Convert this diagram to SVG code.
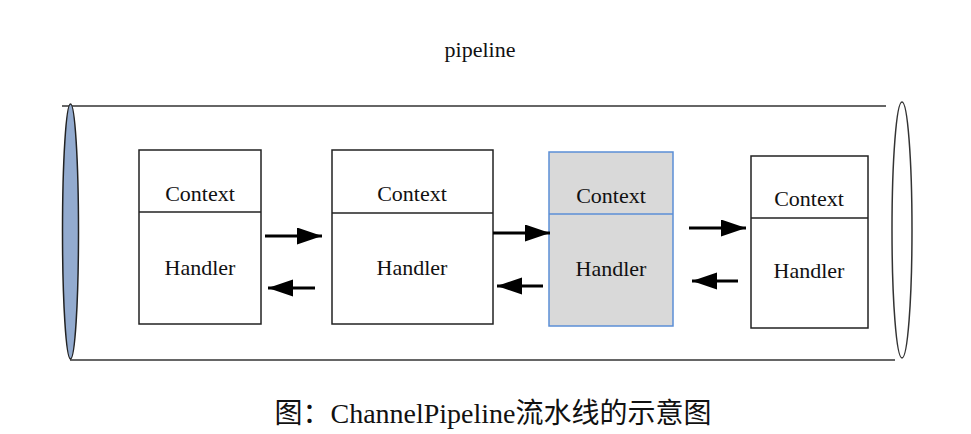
<svg xmlns="http://www.w3.org/2000/svg" width="971" height="434" viewBox="0 0 971 434">
<style>
text{font-family:"Liberation Serif","Noto Sans CJK SC",serif;fill:#111;text-anchor:middle}
.lbl{font-size:22px}
.box{fill:#fff;stroke:#222;stroke-width:1.5}
.hl{fill:#d9d9d9;stroke:#5b8ed6;stroke-width:1.5}
.pipe{stroke:#333;stroke-width:1.5;fill:none}
.arr{stroke:#000;stroke-width:3;fill:none;marker-end:url(#ah)}
</style>
<defs>
<marker id="ah" markerUnits="userSpaceOnUse" markerWidth="26" markerHeight="18" refX="25" refY="8.5" orient="auto">
<path d="M0,0 L25,8.5 L0,17 Z" fill="#000"/>
</marker>
</defs>
<rect width="971" height="434" fill="#fff"/>
<text x="480" y="57" style="font-size:22px">pipeline</text>
<g id="pipeline">
<line class="pipe" x1="62" y1="106" x2="886" y2="106"/>
<line class="pipe" x1="70" y1="360" x2="895" y2="360"/>
<ellipse cx="70.5" cy="231.5" rx="8" ry="127.5" fill="#93abcf" stroke="#222" stroke-width="1.5"/>
<ellipse cx="902" cy="230" rx="10" ry="128" fill="#fff" stroke="#333" stroke-width="1.5"/>
</g>
<g id="node1">
<rect class="box" x="139" y="150" width="122" height="174"/>
<line class="box" x1="139" y1="212" x2="261" y2="212"/>
<text class="lbl" x="200" y="201">Context</text>
<text class="lbl" x="200" y="275">Handler</text>
</g>
<g id="node2">
<rect class="box" x="332" y="150" width="161" height="174"/>
<line class="box" x1="332" y1="213" x2="493" y2="213"/>
<text class="lbl" x="412" y="201">Context</text>
<text class="lbl" x="412" y="275">Handler</text>
</g>
<g id="node3">
<rect class="hl" x="549" y="152" width="124" height="174"/>
<line class="hl" x1="549" y1="214" x2="673" y2="214"/>
<text class="lbl" x="611" y="203">Context</text>
<text class="lbl" x="611" y="276">Handler</text>
</g>
<g id="node4">
<rect class="box" x="751" y="156" width="117" height="172"/>
<line class="box" x1="751" y1="218" x2="868" y2="218"/>
<text class="lbl" x="809" y="206">Context</text>
<text class="lbl" x="809" y="278">Handler</text>
</g>
<g id="connectors">
<line class="arr" x1="265" y1="236" x2="322" y2="236"/>
<line class="arr" x1="315" y1="288" x2="268" y2="288"/>
<line class="arr" x1="493" y1="233" x2="550" y2="233"/>
<line class="arr" x1="543" y1="286" x2="497" y2="286"/>
<line class="arr" x1="689" y1="228" x2="746" y2="228"/>
<line class="arr" x1="738" y1="281" x2="692" y2="281"/>
</g>
<text x="493" y="423" style="font-size:28px">图：ChannelPipeline流水线的示意图</text>
</svg>
